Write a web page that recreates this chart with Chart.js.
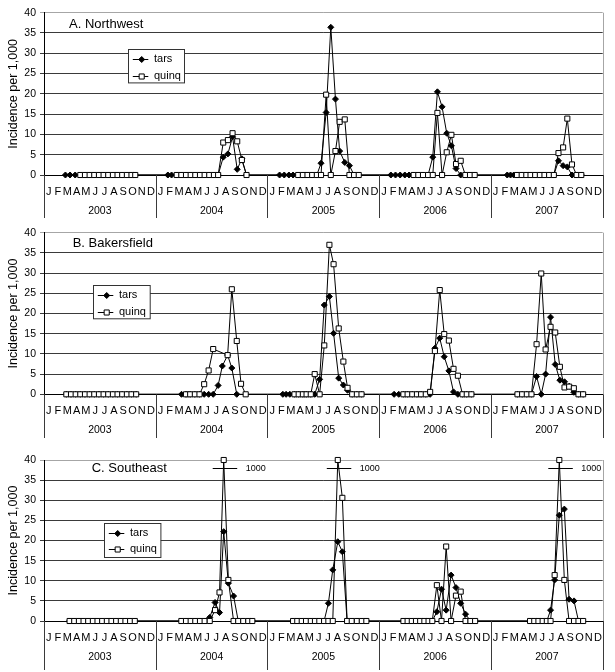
<!DOCTYPE html>
<html>
<head>
<meta charset="utf-8">
<script src="https://cdn.jsdelivr.net/npm/chart.js@4.4.0/dist/chart.umd.min.js"></script>
<style>
  body { margin: 0; background: #fff; }
  .panel { position: absolute; left: 0; width: 615px; }
</style>
</head>
<body>
<div class="panel" style="top:0px"><canvas id="chartA" width="615" height="220"></canvas></div>
<div class="panel" style="top:220px"><canvas id="chartB" width="615" height="220"></canvas></div>
<div class="panel" style="top:447px"><canvas id="chartC" width="615" height="225"></canvas></div>
<script>
// axis labels
const MONTHS = ['J', 'F', 'M', 'A', 'M', 'J', 'J', 'A', 'S', 'O', 'N', 'D'];
const YEARS = ['2003', '2004', '2005', '2006', '2007'];
const SERIES = ['tars', 'quinq'];
const Y_MAX = 40;
const BREAK_AT = 37.9;   // level of the "1000" break mark

// sample dates, in months since Jan 2003
const A_months = [2.3, 2.8, 3.35, 3.9, 4.4, 4.9, 5.4, 5.9, 6.4, 6.9, 7.4, 7.9, 8.4, 8.9, 9.4, 9.8,
  13.3, 13.7, 14.25, 14.75, 15.25, 15.75, 16.25, 16.75, 17.25, 17.75, 18.25, 18.7, 19.25, 19.75, 20.25, 20.75, 21.25, 21.75,
  25.3, 25.8, 26.3, 26.75, 27.3, 27.8, 28.3, 28.8, 29.3, 29.75, 30.3, 30.8, 31.3, 31.75, 32.3, 32.8, 33.3, 33.8,
  37.25, 37.75, 38.25, 38.75, 39.2, 39.7, 40.2, 40.7, 41.25, 41.75, 42.25, 42.75, 43.25, 43.75, 44.25, 44.75, 45.25, 45.75, 46.25,
  49.75, 50.1, 50.45, 50.8, 51.3, 51.8, 52.25, 52.75, 53.25, 53.75, 54.25, 54.75, 55.25, 55.75, 56.2, 56.7, 57.2, 57.7];
const A_tars = [0, 0, 0, 0, 0, 0, 0, 0, 0, 0, 0, 0, 0, 0, 0, 0,
  0, 0, 0, 0, 0, 0, 0, 0, 0, 0, 0, 0, 4.4, 5.2, 9.4, 1.4, 4.0, 0,
  0, 0, 0, 0, 0, 0, 0, 0, 0, 2.9, 15.4, 36.4, 18.7, 5.9, 3.1, 2.3, 0, 0,
  0, 0, 0, 0, 0, 0, 0, 0, 0, 4.4, 20.5, 16.8, 10.3, 7.2, 1.6, 0, 0, 0, 0,
  0, 0, 0, 0, 0, 0, 0, 0, 0, 0, 0, 0, 3.5, 2.3, 2.0, 0, 0, 0];
const A_quinq = [null, null, null, 0, 0, 0, 0, 0, 0, 0, 0, 0, 0, 0, 0, 0,
  null, null, 0, 0, 0, 0, 0, 0, 0, 0, 0, 0, 8.0, 8.6, 10.3, 8.3, 3.7, 0,
  null, null, null, null, 0, 0, 0, 0, 0, 0, 19.8, 0, 5.9, 13.1, 13.7, 0, 0, 0,
  null, null, null, null, null, 0, 0, 0, 0, 0, 15.3, 0, 5.6, 9.9, 2.7, 3.5, 0, 0, 0,
  null, null, null, 0, 0, 0, 0, 0, 0, 0, 0, 0, 5.4, 6.8, 13.9, 2.6, 0, 0];

const B_months = [2.4, 2.9, 3.4, 3.9, 4.4, 4.9, 5.4, 5.9, 6.4, 6.9, 7.4, 7.9, 8.4, 8.9, 9.4, 9.9,
  14.77, 15.25, 15.7, 16.2, 16.7, 17.2, 17.68, 18.17, 18.7, 19.15, 19.72, 20.17, 20.7, 21.16, 21.66,
  25.65, 26.0, 26.4, 26.9, 27.35, 27.8, 28.2, 28.65, 29.07, 29.6, 30.1, 30.65, 31.1, 31.65, 32.15, 32.6, 33.1, 33.6, 34.1,
  37.6, 38.1, 38.6, 39.05, 39.55, 40.05, 40.5, 41.0, 41.47, 41.98, 42.5, 42.98, 43.48, 43.98, 44.45, 44.95, 45.4, 45.9,
  50.85, 51.35, 51.85, 52.35, 52.9, 53.4, 53.87, 54.4, 54.9, 55.4, 55.9, 56.4, 56.9, 57.4, 57.9];
const B_tars = [0, 0, 0, 0, 0, 0, 0, 0, 0, 0, 0, 0, 0, 0, 0, 0,
  0, 0, 0, 0, 0, 0, 0, 0, 2.2, 7.0, 9.7, 6.5, 0, null, null,
  0, 0, 0, 0, 0, 0, 0, 0, 0, 3.7, 22.1, 24.2, 15.1, 4.0, 2.3, 1.0, 0, 0, 0,
  0, 0, 0, 0, 0, 0, 0, 0, 0, 11.4, 13.9, 9.3, 5.8, 0.6, 0, 0, 0, 0,
  0, 0, 0, 0, 4.4, 0, 5.0, 19.1, 7.4, 3.5, 3.1, 2.0, 0.5, 0, 0];
const B_quinq = [0, 0, 0, 0, 0, 0, 0, 0, 0, 0, 0, 0, 0, 0, 0, 0,
  null, 0, 0, 0, 0, 2.5, 5.9, 11.2, null, null, 9.7, 26.0, 13.2, 2.6, 0,
  null, null, null, 0, 0, 0, 0, 0, 5.0, 0, 12.1, 37.0, 32.2, 16.3, 8.1, 1.6, 0, 0, 0,
  null, null, 0, 0, 0, 0, 0, 0, 0.6, 10.7, 25.8, 14.9, 13.3, 6.3, 4.6, 0, 0, 0,
  0, 0, 0, 0, 12.4, 29.9, 11.1, 16.7, 15.3, 6.8, 1.7, 1.9, 1.5, 0, 0];

const C_months = [2.75, 3.25, 3.75, 4.25, 4.75, 5.25, 5.75, 6.25, 6.75, 7.25, 7.75, 8.25, 8.75, 9.25, 9.75,
  14.75, 15.25, 15.75, 16.25, 16.75, 17.25, 17.8, 18.37, 18.85, 19.3, 19.8, 20.36, 20.86, 21.4, 21.94, 22.37,
  26.75, 27.2, 27.68, 28.14, 28.65, 29.1, 29.57, 30.08, 30.54, 31.01, 31.55, 32.04, 32.55, 33.05, 33.6, 34.13, 34.62,
  38.6, 39.05, 39.5, 39.95, 40.4, 40.85, 41.3, 41.7, 42.19, 42.69, 43.19, 43.72, 44.24, 44.75, 45.27, 45.8, 46.3,
  52.2, 52.65, 53.1, 53.55, 54.0, 54.4, 54.84, 55.34, 55.88, 56.39, 56.92, 57.4, 57.9];
const C_tars = [0, 0, 0, 0, 0, 0, 0, 0, 0, 0, 0, 0, 0, 0, 0,
  0, 0, 0, 0, 0, 0, 0.9, 4.6, 2.1, 22.2, 9.4, 6.2, 0, 0, 0, 0,
  0, 0, 0, 0, 0, 0, 0, 0, 4.4, 12.7, 19.7, 17.2, 0, 0, 0, 0, 0,
  0, 0, 0, 0, 0, 0, 0, 0, 2.3, 7.9, 2.7, 11.4, 8.3, 4.4, 1.7, 0, null,
  0, 0, 0, 0, 0, 2.7, 10.2, 26.3, 27.8, 5.4, 5.0, 0, null];
const C_quinq = [0, 0, 0, 0, 0, 0, 0, 0, 0, 0, 0, 0, 0, 0, 0,
  0, 0, 0, 0, 0, 0, 0, 2.7, 7.1, 1000, 10.2, 0, 0, 0, 0, 0,
  0, 0, 0, 0, 0, 0, 0, 0, 0, 0, 1000, 30.6, 0, 0, 0, 0, 0,
  0, 0, 0, 0, 0, 0, 0, 0, 8.9, 0, 18.5, 0, 6.3, 7.3, 0, 0, 0,
  0, 0, 0, 0, 0, 0, 11.4, 1000, 10.2, 0, 0, 0, 0];

const TITLES = ['A. Northwest', 'B. Bakersfield', 'C. Southeast'];

Chart.defaults.font.family = '"Liberation Sans", Arial, sans-serif';
Chart.defaults.color = '#000';

// tick positions: month letters at month centres, years at year centres
const MONTH_TICKS = [];
YEARS.forEach((y, i) => MONTHS.forEach((m, j) => MONTH_TICKS.push(i * 12 + j + 0.5)));
const YEAR_TICKS = YEARS.map((y, i) => i * 12 + 6);
const X_MAX = YEARS.length * 12;

const STYLES = [
  { pointStyle: 'rectRot', pointRadius: 3, pointBackgroundColor: '#000' },
  { pointStyle: 'rect', pointRadius: 3.6, pointBackgroundColor: '#fff' }
];

const decor = {
  id: 'decor',
  beforeDatasetsDraw(chart, args, o) {
    const { ctx, chartArea: a } = chart;
    ctx.save();
    ctx.strokeStyle = '#a6a6a6';
    ctx.lineWidth = 1;
    ctx.beginPath();
    ctx.moveTo(Math.round(a.right) + 0.5, a.top);
    ctx.lineTo(Math.round(a.right) + 0.5, a.bottom);
    ctx.stroke();
    ctx.restore();
  },
  afterDatasetsDraw(chart, args, o) {
    const { ctx } = chart;
    const xs = chart.scales.x, ys = chart.scales.y;
    ctx.save();
    ctx.strokeStyle = '#000';
    ctx.fillStyle = '#000';
    ctx.lineWidth = 1;
    ctx.font = '9px "Liberation Sans", Arial, sans-serif';
    ctx.textBaseline = 'middle';
    ctx.textAlign = 'left';
    chart.data.datasets.forEach(ds => {
      ds.data.forEach(p => {
        if (p.v != null && p.v > Y_MAX) {
          const px = xs.getPixelForValue(p.x);
          const py = Math.round(ys.getPixelForValue(BREAK_AT)) + 0.5;
          ctx.beginPath();
          ctx.moveTo(px - 11, py);
          ctx.lineTo(px + 13.5, py);
          ctx.stroke();
          ctx.fillText(String(p.v), px + 22, py);
        }
      });
    });
    ctx.restore();
  },
  afterDraw(chart, args, o) {
    const { ctx, chartArea: a } = chart;
    const xs = chart.scales.x;
    ctx.save();
    // year dividers below the axis
    ctx.strokeStyle = '#3a3a3a';
    ctx.lineWidth = 1;
    for (let k = 0; k <= X_MAX; k += 12) {
      const x = Math.round(xs.getPixelForValue(k)) + 0.5;
      ctx.beginPath();
      ctx.moveTo(x, a.bottom);
      ctx.lineTo(x, chart.height - 2);
      ctx.stroke();
    }
    // panel title
    ctx.fillStyle = '#000';
    ctx.font = '13px "Liberation Sans", Arial, sans-serif';
    ctx.textBaseline = 'middle';
    ctx.textAlign = 'left';
    ctx.fillText(o.title, o.titleX, o.titleY);
    // legend box
    const L = o.legend;
    ctx.fillStyle = '#fff';
    ctx.fillRect(L.x, L.y, L.w, L.h);
    ctx.strokeStyle = '#333';
    ctx.strokeRect(Math.round(L.x) + 0.5, Math.round(L.y) + 0.5, L.w, L.h);
    ctx.font = '11px "Liberation Sans", Arial, sans-serif';
    chart.data.datasets.forEach((ds, i) => {
      const y = L.y + 10 + i * 16.7;
      ctx.strokeStyle = '#000';
      ctx.beginPath();
      ctx.moveTo(L.x + 4.5, Math.round(y) + 0.5);
      ctx.lineTo(L.x + 20, Math.round(y) + 0.5);
      ctx.stroke();
      ctx.fillStyle = ds.pointBackgroundColor;
      Chart.helpers.drawPoint(ctx, { pointStyle: ds.pointStyle, radius: ds.pointRadius, borderWidth: 1, rotation: 0 }, L.x + 13.4, Math.round(y) + 0.5);
      ctx.fillStyle = '#000';
      ctx.fillText(ds.label, L.x + 25.7, y);
    });
    ctx.restore();
  }
};

function makeChart(id, months, tars, quinq, p) {
  const pts = vals => months.map((m, i) => ({
    x: m,
    y: vals[i] == null ? null : Math.min(vals[i], Y_MAX),
    v: vals[i]
  }));
  const datasets = [tars, quinq].map((vals, i) => Object.assign({
    label: SERIES[i],
    data: pts(vals),
    order: 1 - i,
    borderColor: '#000',
    borderWidth: 1,
    pointBorderColor: '#000',
    pointBorderWidth: 1,
    pointHoverRadius: 3,
    spanGaps: true,
    clip: false,
    tension: 0
  }, STYLES[i]));

  return new Chart(document.getElementById(id), {
    type: 'line',
    data: { datasets: datasets },
    plugins: [decor],
    options: {
      responsive: false,
      animation: false,
      events: [],
      layout: { padding: { top: p.top, right: 12.3, left: 0, bottom: 0 } },
      plugins: {
        legend: { display: false },
        tooltip: { enabled: false },
        decor: p
      },
      scales: {
        x: {
          type: 'linear', position: 'bottom', min: 0, max: X_MAX, weight: 0,
          afterBuildTicks: s => { s.ticks = MONTH_TICKS.map(v => ({ value: v })); },
          afterFit: s => { s.height = 26; },
          grid: { display: false, drawTicks: false },
          border: { display: true, color: '#000', width: 1 },
          ticks: {
            autoSkip: false, maxRotation: 0, minRotation: 0, padding: 10,
            font: { size: 11 },
            callback: v => MONTHS[Math.floor(v) % 12]
          }
        },
        yr: {
          type: 'linear', position: 'bottom', min: 0, max: X_MAX, weight: 1,
          afterBuildTicks: s => { s.ticks = YEAR_TICKS.map(v => ({ value: v })); },
          afterFit: s => { s.height = p.yearH; },
          grid: { display: false, drawTicks: false },
          border: { display: false },
          ticks: {
            autoSkip: false, maxRotation: 0, minRotation: 0, padding: 4,
            font: { size: 10.5 },
            callback: (v, i) => YEARS[i]
          }
        },
        y: {
          min: 0, max: Y_MAX,
          afterFit: s => { s.width = 44; },
          ticks: { stepSize: 5, padding: 4, font: { size: 10.5 } },
          grid: {
            color: c => (c.tick && c.tick.value === Y_MAX) ? '#a6a6a6' : '#3a3a3a',
            tickLength: 4, lineWidth: 1
          },
          border: { color: '#000', width: 1 },
          title: {
            display: true, text: 'Incidence per 1,000',
            font: { size: 12.5 }, padding: { top: 5.8, bottom: 0 }
          }
        }
      }
    }
  });
}

makeChart('chartA', A_months, A_tars, A_quinq, {
  top: 12.7, yearH: 19, title: TITLES[0], titleX: 69, titleY: 24,
  legend: { x: 128.3, y: 49.3, w: 56, h: 33.4 }
});
makeChart('chartB', B_months, B_tars, B_quinq, {
  top: 12.7, yearH: 19.7, title: TITLES[1], titleX: 72.7, titleY: 23.3,
  legend: { x: 93.3, y: 65, w: 56.7, h: 33.3 }
});
makeChart('chartC', C_months, C_tars, C_quinq, {
  top: 13, yearH: 25, title: TITLES[2], titleX: 91.7, titleY: 21.3,
  legend: { x: 104.3, y: 75.7, w: 56.4, h: 34 }
});
</script>
</body>
</html>
